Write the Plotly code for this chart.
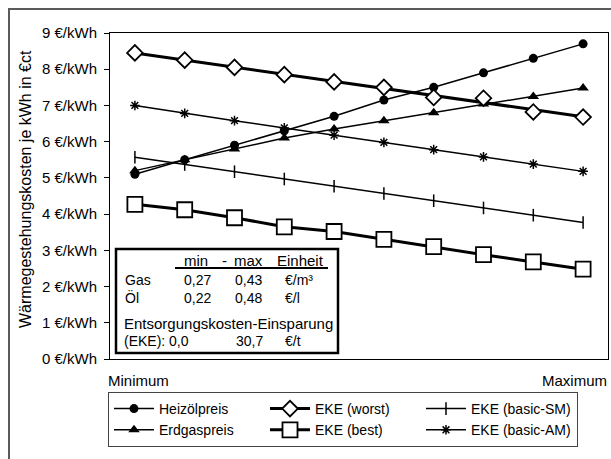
import numpy as np
import plotly.graph_objects as go

# ---- data -------------------------------------------------------------
steps = list(range(10))  # Minimum ... Maximum
heizoel = [5.1, 5.5, 5.9, 6.3, 6.7, 7.15, 7.5, 7.9, 8.3, 8.7]
erdgas = [5.2, 5.5, 5.8, 6.1, 6.35, 6.58, 6.8, 7.04, 7.25, 7.48]
eke_worst = [8.45, 8.25, 8.05, 7.85, 7.65, 7.5, 7.22, 7.2, 6.82, 6.68]
eke_best = [4.27, 4.12, 3.9, 3.65, 3.52, 3.3, 3.1, 2.88, 2.68, 2.48]
eke_basic_sm = [5.57, 5.37, 5.17, 4.97, 4.77, 4.57, 4.37, 4.17, 3.97, 3.77]
eke_basic_am = [7.0, 6.78, 6.58, 6.38, 6.18, 5.98, 5.78, 5.58, 5.38, 5.18]
y_ticks = list(range(10))
y_tick_labels = [f"{v} €/kWh" for v in y_ticks]

table_header = ["min", "-", "max", "Einheit"]
fuel_names = ["Gas", "Öl"]
fuel_min = ["0,27", "0,22"]
fuel_max = ["0,43", "0,48"]
fuel_unit = ["€/m³", "€/l"]
eke_caption = "Entsorgungskosten-Einsparung"
eke_row = ["(EKE):", "0,0", "30,7", "€/t"]

# ---- geometry helpers (pixel -> paper) ---------------------------------
W, H = 611, 459
L, R, T, B = 110, 608, 33, 359
def px(x):
    return (x - L) / (R - L)
def py(y):
    return (B - y) / (B - T)

FONT = "Liberation Sans, Arial, sans-serif"
BLK = "black"

fig = go.Figure()

# worst-case trend line (least squares through the markers)
coef = np.polyfit(steps, eke_worst, 1)
worst_line = np.polyval(coef, steps)

common = dict(x=steps, cliponaxis=False)

fig.add_trace(go.Scatter(y=heizoel, name="Heizölpreis", mode="lines+markers",
                         line=dict(color=BLK, width=1.5),
                         marker=dict(symbol="circle", size=9, color=BLK),
                         legendrank=1, **common))
fig.add_trace(go.Scatter(y=erdgas, name="Erdgaspreis", mode="lines+markers",
                         line=dict(color=BLK, width=1.5),
                         marker=dict(symbol="triangle-up", size=10, color=BLK),
                         legendrank=4, **common))
fig.add_trace(go.Scatter(y=eke_basic_sm, name="EKE (basic-SM)", mode="lines+markers",
                         line=dict(color=BLK, width=1.5),
                         marker=dict(symbol="line-ns", size=9,
                                     line=dict(color=BLK, width=1.5)),
                         legendrank=3, **common))
fig.add_trace(go.Scatter(y=eke_basic_am, name="EKE (basic-AM)", mode="lines+markers",
                         line=dict(color=BLK, width=1.5),
                         marker=dict(symbol="asterisk", size=8,
                                     line=dict(color=BLK, width=1.5)),
                         legendrank=6, **common))
fig.add_trace(go.Scatter(y=eke_best, name="EKE (best)", mode="lines+markers",
                         line=dict(color=BLK, width=3),
                         marker=dict(symbol="square", size=15, color="white",
                                     line=dict(color=BLK, width=1.8)),
                         legendrank=5, **common))
# worst case: straight trend line + individual markers, one legend entry
fig.add_trace(go.Scatter(y=worst_line, mode="lines", showlegend=False,
                         line=dict(color=BLK, width=3), hoverinfo="skip",
                         **common))
fig.add_trace(go.Scatter(y=eke_worst, mode="markers", showlegend=False,
                         marker=dict(symbol="diamond", size=12, color="white",
                                     line=dict(color=BLK, width=1.8)),
                         **common))
fig.add_trace(go.Scatter(x=[None], y=[None], name="EKE (worst)", mode="lines+markers",
                         line=dict(color=BLK, width=3),
                         marker=dict(symbol="diamond", size=12, color="white",
                                     line=dict(color=BLK, width=1.8)),
                         legendrank=2))

# ---- axes -------------------------------------------------------------
fig.update_xaxes(range=[-0.5, 9.5], showticklabels=False, ticks="",
                 showgrid=False, zeroline=False, showline=True,
                 linecolor=BLK, linewidth=1, mirror=True)
fig.update_yaxes(range=[0, 9], tickvals=y_ticks, ticktext=y_tick_labels,
                 ticks="outside", ticklen=5, tickcolor=BLK, tickwidth=1,
                 ticklabelstandoff=4,
                 showgrid=False, zeroline=False, showline=True,
                 linecolor=BLK, linewidth=1, mirror=True,
                 tickfont=dict(family=FONT, size=15, color=BLK))

shapes = []
annotations = []

# outer chart frame
shapes.append(dict(type="rect", xref="paper", yref="paper",
                   x0=px(9), x1=px(W + 20), y0=py(9), y1=py(H + 20),
                   line=dict(color="#5a5a5a", width=2), layer="below"))

# y-axis title
annotations.append(dict(text="Wärmegestehungskosten je kWh in €ct",
                        xref="paper", yref="paper", x=px(25), y=py(189),
                        xanchor="center", yanchor="middle",
                        textangle=-90, showarrow=False,
                        font=dict(family=FONT, size=16, color=BLK)))

# range labels below the axis
annotations.append(dict(text="Minimum", xref="paper", yref="paper",
                        x=px(106), y=py(380), xanchor="left", yanchor="middle",
                        showarrow=False, font=dict(family=FONT, size=15, color=BLK)))
annotations.append(dict(text="Maximum", xref="paper", yref="paper",
                        x=px(609), y=py(380), xanchor="right", yanchor="middle",
                        showarrow=False, font=dict(family=FONT, size=15, color=BLK)))

# ---- inset table --------------------------------------------------------
shapes.append(dict(type="rect", xref="paper", yref="paper",
                   x0=px(116), x1=px(338), y0=py(249), y1=py(353),
                   line=dict(color=BLK, width=2.5), fillcolor="white", layer="above"))
shapes.append(dict(type="line", xref="paper", yref="paper",
                   x0=px(175), x1=px(328), y0=py(268), y1=py(268),
                   line=dict(color=BLK, width=2), layer="above"))

def cell(text, x, y, size=14):
    annotations.append(dict(text=text, xref="paper", yref="paper",
                            x=px(x), y=py(y), xanchor="left", yanchor="middle",
                            align="left", showarrow=False,
                            font=dict(family=FONT, size=size, color=BLK)))

for text, x in zip(table_header, [182, 220, 232, 275]):
    cell(text, x, 260, size=15)
for col, x in zip([fuel_names, fuel_min, fuel_max, fuel_unit], [123, 182, 233, 283]):
    cell("<br>".join(col), x, 289, size=14)
cell(eke_caption, 122, 323, size=15)
for text, x in zip(eke_row, [122, 167, 234, 283]):
    cell(text, x, 341, size=14)

fig.update_layout(
    width=W, height=H,
    margin=dict(l=L, r=W - R, t=T, b=H - B),
    paper_bgcolor="white", plot_bgcolor="white",
    font=dict(family=FONT, size=15, color=BLK),
    shapes=shapes, annotations=annotations,
    legend=dict(orientation="h", x=px(108), y=py(392),
                xanchor="left", yanchor="top",
                bordercolor="#444444", borderwidth=1,
                entrywidth=101, entrywidthmode="pixels",
                font=dict(family=FONT, size=14, color=BLK),
                tracegroupgap=0, itemwidth=40),
    showlegend=True,
)

fig.write_html("out.html")
